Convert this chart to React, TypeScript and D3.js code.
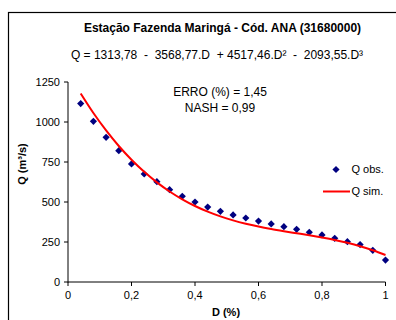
import React from "react";
import * as d3 from "d3";

const dValues = [0.04, 0.08, 0.12, 0.16, 0.2, 0.24, 0.28, 0.32, 0.36, 0.4, 0.44, 0.48, 0.52, 0.56, 0.6, 0.64, 0.68, 0.72, 0.76, 0.8, 0.84, 0.88, 0.92, 0.96, 1.0];
const qObs = [1115, 1004, 904, 821, 738, 675, 627, 577, 536, 500, 468, 442, 419, 400, 381, 363, 346, 329, 311, 294, 273, 252, 234, 198, 137];
const qSim = [1178.1, 1056.1, 947.0, 849.9, 764.0, 688.5, 622.7, 565.8, 516.8, 475.1, 439.8, 410.1, 385.2, 364.3, 346.6, 331.3, 317.6, 304.7, 291.8, 278.0, 262.7, 244.9, 223.9, 198.8, 168.9];
const xTicks = [0, 0.2, 0.4, 0.6, 0.8, 1];
const xTickLabels = ["0", "0,2", "0,4", "0,6", "0,8", "1"];
const yTicks = [0, 250, 500, 750, 1000, 1250];

const FONT = "'Liberation Sans', Arial, sans-serif";

export default function App() {
  const x = d3.scaleLinear().domain([0, 1]).range([68, 385.5]);
  const y = d3.scaleLinear().domain([0, 1250]).range([282, 82]);
  const line = d3
    .line<number>()
    .x((_, i) => x(dValues[i]))
    .y((v) => y(v))
    .curve(d3.curveMonotoneX);
  const diamond = (cx: number, cy: number, r: number) =>
    `M${cx},${cy - r}L${cx + r},${cy}L${cx},${cy + r}L${cx - r},${cy}Z`;

  return (
    <svg
      width={396}
      height={320}
      style={{ position: "absolute", left: 0, top: 0, background: "#fff" }}
      fontFamily={FONT}
    >
      <rect x={0} y={0} width={396} height={320} fill="#fff" />
      <rect x={8.5} y={12.5} width={400} height={320} fill="none" stroke="#000" strokeWidth={1.2} />
      <text x={222.5} y={32} textAnchor="middle" fontSize={12} fontWeight="bold">
        Estação Fazenda Maringá - Cód. ANA (31680000)
      </text>
      <text x={217} y={58.5} textAnchor="middle" fontSize={12} xmlSpace="preserve">
        Q = 1313,78  -  3568,77.D  + 4517,46.D²  -  2093,55.D³
      </text>
      <text x={220} y={95.5} textAnchor="middle" fontSize={12}>ERRO (%) = 1,45</text>
      <text x={220} y={111.5} textAnchor="middle" fontSize={12}>NASH = 0,99</text>

      {/* axes */}
      <line x1={68} x2={68} y1={y(1250)} y2={y(0) + 0.5} stroke="#000" />
      <line x1={68} x2={x(1)} y1={282} y2={282} stroke="#000" />
      {yTicks.map((t) => (
        <g key={"y" + t}>
          <line x1={64} x2={68} y1={y(t)} y2={y(t)} stroke="#000" />
          <text x={60} y={y(t)} dy="0.35em" textAnchor="end" fontSize={11}>
            {t}
          </text>
        </g>
      ))}
      {xTicks.map((t, i) => (
        <g key={"x" + t}>
          <line x1={x(t)} x2={x(t)} y1={282} y2={286} stroke="#000" />
          <text x={x(t)} y={299} textAnchor="middle" fontSize={11}>
            {xTickLabels[i]}
          </text>
        </g>
      ))}
      <text x={226} y={316} textAnchor="middle" fontSize={11} fontWeight="bold">D (%)</text>
      <text
        transform={`translate(26,164) rotate(-90)`}
        textAnchor="middle"
        fontSize={11}
        fontWeight="bold"
      >
        Q (m³/s)
      </text>

      {/* series */}
      {qObs.map((v, i) => (
        <path key={"p" + i} d={diamond(x(dValues[i]), y(v), 3.6)} fill="#000080" />
      ))}
      <path d={line(qSim) || ""} fill="none" stroke="#ff0000" strokeWidth={2} />

      {/* legend */}
      <path d={diamond(336, 169.5, 3.6)} fill="#000080" />
      <text x={351.5} y={169.5} dy="0.35em" fontSize={11}>Q obs.</text>
      <line x1={323} x2={350} y1={191.5} y2={191.5} stroke="#ff0000" strokeWidth={2} />
      <text x={351.5} y={191.5} dy="0.35em" fontSize={11}>Q sim.</text>
    </svg>
  );
}
